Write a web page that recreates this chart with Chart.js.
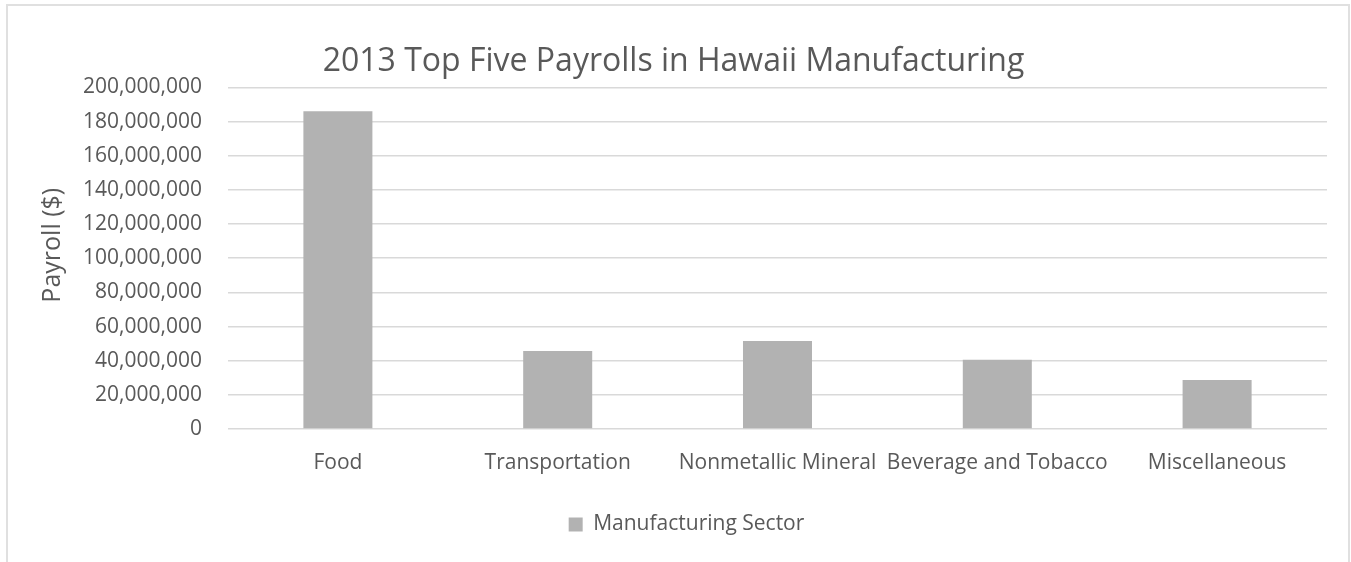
<!DOCTYPE html>
<html>
<head>
<meta charset="utf-8">
<script src="https://cdn.jsdelivr.net/npm/chart.js@4.4.0/dist/chart.umd.min.js"></script>
<style>
  html, body { margin: 0; padding: 0; background: #fff; overflow: hidden; }
  #frame { position: absolute; left: 6px; top: 4px; width: 1340px; height: 620px; border: 2px solid #e0e0e0; }
  #payrollChart { position: absolute; left: 0; top: 0; }
</style>
</head>
<body>
<div id="frame"></div>
<canvas id="payrollChart" width="1351" height="562"></canvas>
<script>
const sectors = ['Food', 'Transportation', 'Nonmetallic Mineral', 'Beverage and Tobacco', 'Miscellaneous'];
const payrolls = [186000000, 45700000, 51500000, 40600000, 28700000];
const yMax = 200000000;
const yStep = 20000000;

const textColor = '#595959';
const fontFamily = '"Open Sans", sans-serif';

const canvas = document.getElementById('payrollChart');

// Title and legend sit a bit right of the padded box's centre
const shiftBlocks = {
    id: 'shiftBlocks',
    afterLayout(chart) {
        const title = chart.titleBlock;
        if (title) {
            title.left += 10;
            title.right += 10;
        }
        const legend = chart.legend;
        if (legend) {
            legend.left += 23;
            legend.right += 23;
        }
    }
};

const chartConfig = {
    type: 'bar',
    data: {
        labels: sectors,
        datasets: [{
            label: 'Manufacturing Sector',
            data: payrolls,
            backgroundColor: '#b2b2b2',
            borderWidth: 0,
            categoryPercentage: 1,
            barPercentage: 0.314
        }]
    },
    options: {
        responsive: false,
        animation: false,
        devicePixelRatio: 1,
        layout: {
            padding: { left: 0, right: 24, top: 0, bottom: 17 }
        },
        plugins: {
            title: {
                display: true,
                text: '2013 Top Five Payrolls in Hawaii Manufacturing',
                color: textColor,
                font: { family: fontFamily, size: 32, weight: 'normal' },
                padding: { top: 43, bottom: 6 }
            },
            legend: {
                position: 'bottom',
                labels: {
                    color: textColor,
                    boxWidth: 14,
                    boxHeight: 14,
                    padding: 10,
                    font: { family: fontFamily, size: 21 }
                }
            },
            tooltip: { enabled: false }
        },
        scales: {
            x: {
                grid: { display: false },
                border: { display: false },
                ticks: {
                    color: textColor,
                    font: { family: fontFamily, size: 21 },
                    padding: 13,
                    autoSkip: false,
                    maxRotation: 0
                },
                afterFit: function(scale) {
                    scale.height = 75;
                }
            },
            y: {
                min: 0,
                max: yMax,
                border: { display: false },
                grid: { color: '#d9d9d9', lineWidth: 1.5, drawTicks: false },
                ticks: {
                    stepSize: yStep,
                    color: textColor,
                    padding: 26,
                    font: { family: fontFamily, size: 21 },
                    callback: function(value) {
                        return value.toLocaleString('en-US');
                    }
                },
                title: {
                    display: true,
                    // leading spaces nudge the rotated title a little above the axis middle
                    text: '    Payroll ($)',
                    color: textColor,
                    font: { family: fontFamily, size: 25 },
                    padding: { top: 38, bottom: 0 }
                },
                afterFit: function(scale) {
                    scale.width = 228;
                }
            }
        }
    },
    plugins: [shiftBlocks]
};

const payrollChart = new Chart(canvas, chartConfig);
console.log('Chart area:', payrollChart.chartArea);
</script>
</body>
</html>
